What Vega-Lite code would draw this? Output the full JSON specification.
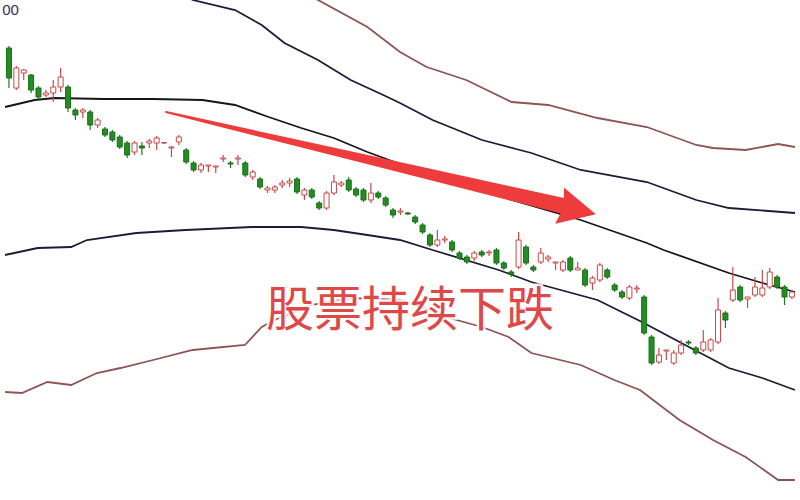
{
  "$schema": "https://vega.github.io/schema/vega-lite/v6.json",
  "autosize": {"type": "fit", "contains": "padding"},
  "width": 800,
  "height": 500,
  "padding": 0,
  "background": "#ffffff",
  "config": {"view": {"stroke": null}},
  "datasets": {
    "candles": [
      {"d":0,"o":22.6,"h":22.7,"l":20.6,"c":21.1},
      {"d":1,"o":20.6,"h":21.7,"l":20.5,"c":21.6},
      {"d":2,"o":21.35,"h":21.55,"l":21.0,"c":21.5},
      {"d":3,"o":21.25,"h":21.3,"l":20.35,"c":20.5},
      {"d":4,"o":20.6,"h":20.7,"l":20.05,"c":20.15},
      {"d":5,"o":20.25,"h":20.5,"l":20.15,"c":20.35},
      {"d":6,"o":20.35,"h":21.0,"l":19.9,"c":20.65},
      {"d":7,"o":20.65,"h":21.6,"l":20.4,"c":21.15},
      {"d":8,"o":20.65,"h":20.75,"l":19.4,"c":19.6},
      {"d":9,"o":19.5,"h":19.6,"l":19.0,"c":19.25},
      {"d":10,"o":19.4,"h":19.6,"l":19.1,"c":19.5},
      {"d":11,"o":19.4,"h":19.5,"l":18.5,"c":18.75},
      {"d":12,"o":18.75,"h":19.1,"l":18.6,"c":19.0},
      {"d":13,"o":18.55,"h":18.65,"l":18.15,"c":18.25},
      {"d":14,"o":18.4,"h":18.5,"l":17.9,"c":18.0},
      {"d":15,"o":18.15,"h":18.25,"l":17.55,"c":17.65},
      {"d":16,"o":17.85,"h":17.95,"l":17.1,"c":17.25},
      {"d":17,"o":17.4,"h":17.95,"l":17.25,"c":17.85},
      {"d":18,"o":17.7,"h":17.9,"l":17.25,"c":17.6},
      {"d":19,"o":17.85,"h":18.05,"l":17.6,"c":17.95},
      {"d":20,"o":17.85,"h":18.2,"l":17.5,"c":18.1},
      {"d":21,"o":17.85,"h":17.9,"l":17.8,"c":17.87},
      {"d":22,"o":17.6,"h":17.7,"l":17.15,"c":17.65},
      {"d":23,"o":17.9,"h":18.25,"l":17.75,"c":18.15},
      {"d":24,"o":17.5,"h":17.6,"l":16.8,"c":16.9},
      {"d":25,"o":16.85,"h":16.95,"l":16.4,"c":16.5},
      {"d":26,"o":16.5,"h":16.85,"l":16.35,"c":16.75},
      {"d":27,"o":16.7,"h":16.75,"l":16.4,"c":16.75},
      {"d":28,"o":16.65,"h":16.7,"l":16.35,"c":16.7},
      {"d":29,"o":17.05,"h":17.25,"l":16.9,"c":17.1},
      {"d":30,"o":16.85,"h":16.95,"l":16.6,"c":16.8},
      {"d":31,"o":17.05,"h":17.25,"l":16.75,"c":17.1},
      {"d":32,"o":16.85,"h":16.95,"l":16.15,"c":16.25},
      {"d":33,"o":16.15,"h":16.5,"l":16.0,"c":16.4},
      {"d":34,"o":16.05,"h":16.15,"l":15.55,"c":15.65},
      {"d":35,"o":15.5,"h":15.7,"l":15.35,"c":15.6},
      {"d":36,"o":15.5,"h":15.75,"l":15.35,"c":15.65},
      {"d":37,"o":15.75,"h":16.0,"l":15.6,"c":15.85},
      {"d":38,"o":15.85,"h":16.1,"l":15.65,"c":15.95},
      {"d":39,"o":16.05,"h":16.15,"l":15.3,"c":15.4},
      {"d":40,"o":15.25,"h":15.6,"l":15.0,"c":15.5},
      {"d":41,"o":15.5,"h":15.6,"l":15.05,"c":15.15},
      {"d":42,"o":14.85,"h":14.95,"l":14.5,"c":14.6},
      {"d":43,"o":14.6,"h":15.45,"l":14.5,"c":15.35},
      {"d":44,"o":15.35,"h":16.25,"l":15.25,"c":15.9},
      {"d":45,"o":15.75,"h":15.95,"l":15.65,"c":15.85},
      {"d":46,"o":16.0,"h":16.15,"l":15.4,"c":15.5},
      {"d":47,"o":15.55,"h":15.65,"l":15.15,"c":15.25},
      {"d":48,"o":15.5,"h":15.6,"l":14.9,"c":15.0},
      {"d":49,"o":15.0,"h":15.85,"l":14.85,"c":15.35},
      {"d":50,"o":15.35,"h":15.45,"l":15.05,"c":15.15},
      {"d":51,"o":15.1,"h":15.2,"l":14.65,"c":14.75},
      {"d":52,"o":14.5,"h":14.6,"l":14.1,"c":14.25},
      {"d":53,"o":14.4,"h":14.6,"l":14.25,"c":14.45},
      {"d":54,"o":14.35,"h":14.4,"l":14.25,"c":14.3},
      {"d":55,"o":14.15,"h":14.25,"l":13.8,"c":13.9},
      {"d":56,"o":13.75,"h":13.85,"l":13.3,"c":13.4},
      {"d":57,"o":13.25,"h":13.35,"l":12.65,"c":12.75},
      {"d":58,"o":12.75,"h":13.5,"l":12.65,"c":13.0},
      {"d":59,"o":13.0,"h":13.2,"l":12.85,"c":13.05},
      {"d":60,"o":12.9,"h":13.0,"l":12.4,"c":12.5},
      {"d":61,"o":12.35,"h":12.45,"l":12.0,"c":12.1},
      {"d":62,"o":12.15,"h":12.25,"l":11.8,"c":11.9},
      {"d":63,"o":12.1,"h":12.45,"l":11.95,"c":12.35},
      {"d":64,"o":12.4,"h":12.5,"l":12.15,"c":12.25},
      {"d":65,"o":12.35,"h":12.5,"l":12.2,"c":12.4},
      {"d":66,"o":12.5,"h":12.6,"l":11.75,"c":11.85},
      {"d":67,"o":11.85,"h":11.95,"l":11.5,"c":11.6},
      {"d":68,"o":11.4,"h":11.5,"l":11.15,"c":11.3},
      {"d":69,"o":11.65,"h":13.4,"l":11.55,"c":13.0},
      {"d":70,"o":12.65,"h":12.75,"l":11.75,"c":11.85},
      {"d":71,"o":11.65,"h":11.75,"l":11.4,"c":11.5},
      {"d":72,"o":11.9,"h":12.6,"l":11.8,"c":12.35},
      {"d":73,"o":12.05,"h":12.25,"l":11.9,"c":12.15},
      {"d":74,"o":11.85,"h":11.9,"l":11.5,"c":11.9},
      {"d":75,"o":11.5,"h":12.0,"l":11.4,"c":11.9},
      {"d":76,"o":12.1,"h":12.2,"l":11.4,"c":11.5},
      {"d":77,"o":11.5,"h":11.9,"l":11.5,"c":11.6},
      {"d":78,"o":11.5,"h":11.6,"l":10.65,"c":10.75},
      {"d":79,"o":10.85,"h":11.2,"l":10.5,"c":11.1},
      {"d":80,"o":11.0,"h":11.85,"l":10.9,"c":11.75},
      {"d":81,"o":11.5,"h":11.6,"l":11.05,"c":11.15},
      {"d":82,"o":10.75,"h":10.85,"l":10.4,"c":10.5},
      {"d":83,"o":10.4,"h":10.5,"l":10.05,"c":10.15},
      {"d":84,"o":10.1,"h":10.75,"l":10.0,"c":10.65},
      {"d":85,"o":10.55,"h":10.75,"l":10.35,"c":10.6},
      {"d":86,"o":10.15,"h":10.25,"l":8.25,"c":8.35},
      {"d":87,"o":8.15,"h":8.25,"l":6.75,"c":6.85},
      {"d":88,"o":6.9,"h":7.6,"l":6.8,"c":7.25},
      {"d":89,"o":7.45,"h":7.5,"l":7.0,"c":7.5},
      {"d":90,"o":6.85,"h":7.5,"l":6.75,"c":7.35},
      {"d":91,"o":7.35,"h":8.0,"l":7.25,"c":7.75},
      {"d":92,"o":7.9,"h":8.0,"l":7.75,"c":7.85},
      {"d":93,"o":7.6,"h":7.7,"l":7.25,"c":7.35},
      {"d":94,"o":7.5,"h":8.5,"l":7.4,"c":7.9},
      {"d":95,"o":7.5,"h":8.1,"l":7.4,"c":8.0},
      {"d":96,"o":7.9,"h":10.1,"l":7.8,"c":9.5},
      {"d":97,"o":9.35,"h":9.45,"l":8.6,"c":9.0},
      {"d":98,"o":10.0,"h":11.65,"l":9.9,"c":10.5},
      {"d":99,"o":10.65,"h":10.75,"l":9.9,"c":10.0},
      {"d":100,"o":10.05,"h":10.15,"l":9.6,"c":10.15},
      {"d":101,"o":10.25,"h":11.15,"l":10.15,"c":10.65},
      {"d":102,"o":10.25,"h":11.5,"l":10.15,"c":10.6},
      {"d":103,"o":10.65,"h":11.6,"l":10.55,"c":11.4},
      {"d":104,"o":11.15,"h":11.25,"l":10.55,"c":10.65},
      {"d":105,"o":10.65,"h":10.75,"l":9.75,"c":10.15},
      {"d":106,"o":10.15,"h":10.5,"l":10.05,"c":10.4}
    ],
    "bands": [
      {"band":"upper2","d":39.57,"p":25.6},
      {"band":"upper2","d":41.84,"p":25.0},
      {"band":"upper2","d":48.53,"p":23.65},
      {"band":"upper2","d":52.94,"p":22.4},
      {"band":"upper2","d":56.55,"p":21.65},
      {"band":"upper2","d":61.9,"p":21.0},
      {"band":"upper2","d":68.05,"p":19.9},
      {"band":"upper2","d":73.0,"p":19.75},
      {"band":"upper2","d":79.68,"p":19.1},
      {"band":"upper2","d":86.36,"p":18.65},
      {"band":"upper2","d":93.05,"p":17.75},
      {"band":"upper2","d":95.32,"p":17.6},
      {"band":"upper2","d":99.73,"p":17.5},
      {"band":"upper2","d":104.14,"p":17.8},
      {"band":"upper2","d":106.42,"p":17.65},
      {"band":"upper1","d":23.53,"p":25.3},
      {"band":"upper1","d":24.87,"p":25.0},
      {"band":"upper1","d":30.61,"p":24.5},
      {"band":"upper1","d":34.22,"p":23.75},
      {"band":"upper1","d":37.3,"p":22.85},
      {"band":"upper1","d":41.84,"p":22.0},
      {"band":"upper1","d":46.26,"p":21.0},
      {"band":"upper1","d":50.67,"p":20.25},
      {"band":"upper1","d":52.94,"p":19.85},
      {"band":"upper1","d":57.35,"p":19.0},
      {"band":"upper1","d":64.04,"p":18.0},
      {"band":"upper1","d":70.72,"p":17.35},
      {"band":"upper1","d":77.41,"p":16.5},
      {"band":"upper1","d":86.36,"p":15.9},
      {"band":"upper1","d":93.05,"p":15.0},
      {"band":"upper1","d":97.46,"p":14.6},
      {"band":"upper1","d":106.42,"p":14.35},
      {"band":"mid","d":-0.53,"p":19.65},
      {"band":"mid","d":3.48,"p":20.0},
      {"band":"mid","d":6.15,"p":20.1},
      {"band":"mid","d":12.83,"p":20.05},
      {"band":"mid","d":19.52,"p":20.05},
      {"band":"mid","d":26.2,"p":20.0},
      {"band":"mid","d":30.61,"p":19.75},
      {"band":"mid","d":35.16,"p":19.15},
      {"band":"mid","d":39.57,"p":18.6},
      {"band":"mid","d":43.98,"p":18.1},
      {"band":"mid","d":48.53,"p":17.4},
      {"band":"mid","d":52.94,"p":16.8},
      {"band":"mid","d":57.35,"p":16.15},
      {"band":"mid","d":66.31,"p":15.2},
      {"band":"mid","d":77.41,"p":14.0},
      {"band":"mid","d":86.36,"p":12.85},
      {"band":"mid","d":88.64,"p":12.5},
      {"band":"mid","d":97.46,"p":11.35},
      {"band":"mid","d":102.0,"p":10.85},
      {"band":"mid","d":106.42,"p":10.4},
      {"band":"lower1","d":-0.53,"p":12.25},
      {"band":"lower1","d":3.88,"p":12.6},
      {"band":"lower1","d":8.42,"p":12.65},
      {"band":"lower1","d":10.56,"p":13.0},
      {"band":"lower1","d":17.25,"p":13.35},
      {"band":"lower1","d":23.93,"p":13.5},
      {"band":"lower1","d":32.89,"p":13.65},
      {"band":"lower1","d":39.57,"p":13.65},
      {"band":"lower1","d":43.98,"p":13.5},
      {"band":"lower1","d":48.53,"p":13.25},
      {"band":"lower1","d":52.94,"p":13.0},
      {"band":"lower1","d":57.35,"p":12.5},
      {"band":"lower1","d":66.31,"p":11.5},
      {"band":"lower1","d":70.72,"p":10.9},
      {"band":"lower1","d":79.68,"p":10.0},
      {"band":"lower1","d":85.7,"p":8.9},
      {"band":"lower1","d":90.78,"p":7.9},
      {"band":"lower1","d":97.46,"p":6.6},
      {"band":"lower1","d":102.0,"p":6.1},
      {"band":"lower1","d":106.42,"p":5.5},
      {"band":"lower2","d":-0.53,"p":5.4},
      {"band":"lower2","d":1.74,"p":5.35},
      {"band":"lower2","d":5.21,"p":5.9},
      {"band":"lower2","d":8.42,"p":5.75},
      {"band":"lower2","d":11.9,"p":6.35},
      {"band":"lower2","d":15.11,"p":6.6},
      {"band":"lower2","d":19.52,"p":7.0},
      {"band":"lower2","d":24.87,"p":7.5},
      {"band":"lower2","d":31.95,"p":7.75},
      {"band":"lower2","d":34.22,"p":8.65},
      {"band":"lower2","d":35.96,"p":9.0},
      {"band":"lower2","d":40.91,"p":9.75},
      {"band":"lower2","d":46.26,"p":10.1},
      {"band":"lower2","d":52.94,"p":10.0},
      {"band":"lower2","d":56.95,"p":9.5},
      {"band":"lower2","d":59.63,"p":9.1},
      {"band":"lower2","d":64.04,"p":8.65},
      {"band":"lower2","d":67.65,"p":8.15},
      {"band":"lower2","d":70.72,"p":7.35},
      {"band":"lower2","d":77.41,"p":6.75},
      {"band":"lower2","d":81.95,"p":6.0},
      {"band":"lower2","d":85.43,"p":5.5},
      {"band":"lower2","d":90.78,"p":4.0},
      {"band":"lower2","d":95.32,"p":3.0},
      {"band":"lower2","d":99.73,"p":2.15},
      {"band":"lower2","d":104.14,"p":1.0},
      {"band":"lower2","d":106.42,"p":1.0}
    ],
    "shaft": [
      {"d":21.26,"p":19.4,"w":0},
      {"d":48.46,"p":17.03,"w":0.5},
      {"d":75.67,"p":14.65,"w":1}
    ],
    "head": [{"d":77.0,"p":14.5}],
    "labels": [
      {"d":54.28,"p":9.4,"text":"股票持续下跌"}
    ],
    "corner": [{"d":1.34,"p":24.5,"text":"00"}]
  },
  "layer": [
    {
      "data": {"name": "bands"},
      "mark": {"type": "line", "strokeWidth": 1.8, "clip": true},
      "encoding": {
        "x": {"field": "d", "type": "quantitative", "axis": null, "scale": {"domain": [-0.535, 106.42], "nice": false, "zero": false}},
        "y": {"field": "p", "type": "quantitative", "axis": null, "scale": {"domain": [0, 25], "nice": false, "zero": false}},
        "color": {"field": "band", "type": "nominal", "legend": null, "scale": {"domain": ["upper2","upper1","mid","lower1","lower2"], "range": ["#8e5454","#1c1c38","#161616","#1c1c38","#8e5454"]}}
      }
    },
    {
      "data": {"name": "candles"},
      "mark": {"type": "rule", "strokeWidth": 1.2},
      "encoding": {
        "x": {"field": "d", "type": "quantitative", "axis": null, "scale": {"domain": [-0.535, 106.42], "nice": false, "zero": false}},
        "y": {"field": "l", "type": "quantitative", "axis": null, "scale": {"domain": [0, 25], "nice": false, "zero": false}},
        "y2": {"field": "h"},
        "color": {"condition": {"test": "datum.c >= datum.o", "value": "#c84a4a"}, "value": "#1f7a1f"}
      }
    },
    {
      "data": {"name": "candles"},
      "mark": {"type": "bar", "width": 5, "strokeWidth": 1},
      "encoding": {
        "x": {"field": "d", "type": "quantitative", "axis": null, "scale": {"domain": [-0.535, 106.42], "nice": false, "zero": false}},
        "y": {"field": "o", "type": "quantitative", "axis": null, "scale": {"domain": [0, 25], "nice": false, "zero": false}},
        "y2": {"field": "c"},
        "fill": {"condition": {"test": "datum.c >= datum.o", "value": "#ffffff"}, "value": "#238c23"},
        "stroke": {"condition": {"test": "datum.c >= datum.o", "value": "#c84a4a"}, "value": "#1a6e1a"}
      }
    },
    {
      "data": {"name": "shaft"},
      "mark": {"type": "trail", "color": "#ee3b3b"},
      "encoding": {
        "x": {"field": "d", "type": "quantitative", "axis": null, "scale": {"domain": [-0.535, 106.42], "nice": false, "zero": false}},
        "y": {"field": "p", "type": "quantitative", "axis": null, "scale": {"domain": [0, 25], "nice": false, "zero": false}},
        "size": {"field": "w", "type": "quantitative", "legend": null, "scale": {"domain": [0, 1], "range": [2, 16]}}
      }
    },
    {
      "data": {"name": "head"},
      "mark": {"type": "point", "shape": "M1,0 L-1,-1 L-0.75,0 L-1,1 Z", "filled": true, "opacity": 1, "color": "#ee3b3b", "size": 1400, "angle": 13.4},
      "encoding": {
        "x": {"field": "d", "type": "quantitative", "axis": null, "scale": {"domain": [-0.535, 106.42], "nice": false, "zero": false}},
        "y": {"field": "p", "type": "quantitative", "axis": null, "scale": {"domain": [0, 25], "nice": false, "zero": false}}
      }
    },
    {
      "data": {"name": "labels"},
      "mark": {"type": "text", "font": "Noto Sans CJK SC", "fontSize": 48, "color": "#ffffff", "stroke": "#ffffff", "strokeWidth": 5, "strokeOpacity": 0.85, "align": "center", "baseline": "middle"},
      "encoding": {
        "x": {"field": "d", "type": "quantitative", "axis": null, "scale": {"domain": [-0.535, 106.42], "nice": false, "zero": false}},
        "y": {"field": "p", "type": "quantitative", "axis": null, "scale": {"domain": [0, 25], "nice": false, "zero": false}},
        "text": {"field": "text"}
      }
    },
    {
      "data": {"name": "labels"},
      "mark": {"type": "text", "font": "Noto Sans CJK SC", "fontSize": 48, "color": "#e04848", "align": "center", "baseline": "middle"},
      "encoding": {
        "x": {"field": "d", "type": "quantitative", "axis": null, "scale": {"domain": [-0.535, 106.42], "nice": false, "zero": false}},
        "y": {"field": "p", "type": "quantitative", "axis": null, "scale": {"domain": [0, 25], "nice": false, "zero": false}},
        "text": {"field": "text"}
      }
    },
    {
      "data": {"name": "corner"},
      "mark": {"type": "text", "font": "Liberation Sans", "fontSize": 15, "color": "#2e2e70", "align": "right", "baseline": "middle"},
      "encoding": {
        "x": {"field": "d", "type": "quantitative", "axis": null, "scale": {"domain": [-0.535, 106.42], "nice": false, "zero": false}},
        "y": {"field": "p", "type": "quantitative", "axis": null, "scale": {"domain": [0, 25], "nice": false, "zero": false}},
        "text": {"field": "text"}
      }
    }
  ]
}
